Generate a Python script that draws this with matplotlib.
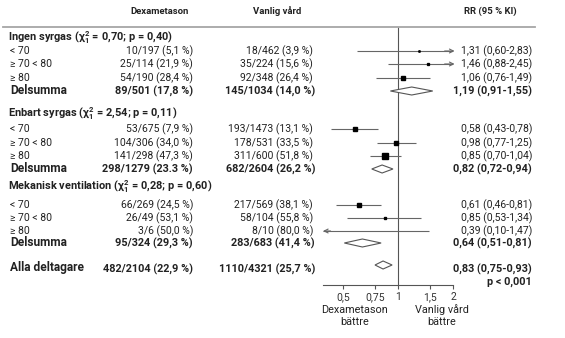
import matplotlib.pyplot as plt
from matplotlib import transforms
from matplotlib.lines import Line2D

plt.rcParams['font.family'] = ['Roboto', 'DejaVu Sans']
plt.rcParams['mathtext.fontset'] = 'custom'
plt.rcParams['mathtext.rm'] = 'Roboto:bold'
plt.rcParams['mathtext.it'] = 'Roboto:bold'
plt.rcParams['mathtext.bf'] = 'Roboto:bold'

W, H = 565, 338

# data
group_titles = [r'Ingen syrgas ($\chi^2_1$ = 0,70; p = 0,40)',
                r'Enbart syrgas ($\chi^2_1$ = 2,54; p = 0,11)',
                r'Mekanisk ventilation ($\chi^2_1$ = 0,28; p = 0,60)']
age_labels = ['< 70', '≥ 70 < 80', '≥ 80']

dex_txt = [['10/197 (5,1 %)', '25/114 (21,9 %)', '54/190 (28,4 %)'],
           ['53/675 (7,9 %)', '104/306 (34,0 %)', '141/298 (47,3 %)'],
           ['66/269 (24,5 %)', '26/49 (53,1 %)', '3/6 (50,0 %)']]
van_txt = [['18/462 (3,9 %)', '35/224 (15,6 %)', '92/348 (26,4 %)'],
           ['193/1473 (13,1 %)', '178/531 (33,5 %)', '311/600 (51,8 %)'],
           ['217/569 (38,1 %)', '58/104 (55,8 %)', '8/10 (80,0 %)']]
events = [[28, 60, 146], [246, 282, 452], [283, 84, 11]]
rr = [[1.31, 1.46, 1.06], [0.58, 0.98, 0.85], [0.61, 0.85, 0.39]]
lo = [[0.60, 0.88, 0.76], [0.43, 0.77, 0.70], [0.46, 0.53, 0.10]]
hi = [[2.83, 2.45, 1.49], [0.78, 1.25, 1.04], [0.81, 1.34, 1.47]]
rr_txt = [['1,31 (0,60-2,83)', '1,46 (0,88-2,45)', '1,06 (0,76-1,49)'],
          ['0,58 (0,43-0,78)', '0,98 (0,77-1,25)', '0,85 (0,70-1,04)'],
          ['0,61 (0,46-0,81)', '0,85 (0,53-1,34)', '0,39 (0,10-1,47)']]

sub_dex = ['89/501 (17,8 %)', '298/1279 (23.3 %)', '95/324 (29,3 %)']
sub_van = ['145/1034 (14,0 %)', '682/2604 (26,2 %)', '283/683 (41,4 %)']
sub_rr = [1.19, 0.82, 0.64]
sub_lo = [0.91, 0.72, 0.51]
sub_hi = [1.55, 0.94, 0.81]
sub_txt = ['1,19 (0,91-1,55)', '0,82 (0,72-0,94)', '0,64 (0,51-0,81)']

all_dex = '482/2104 (22,9 %)'
all_van = '1110/4321 (25,7 %)'
all_rr, all_lo, all_hi = 0.83, 0.75, 0.93
all_txt = '0,83 (0,75-0,93)'

ticks = [0.5, 0.75, 1, 1.5, 2]
tick_labels = ['0,5', '0,75', '1', '1,5', '2']

# layout (pixel rows)
title_y = [38, 114, 187]
row_y = [[51, 64, 78], [129, 143, 156], [205, 218, 231]]
sub_y = [91, 169, 243]
all_y = 268
axis_y = 285
XMIN, XMAX = 0.39, 2.0

fig = plt.figure(figsize=(W / 100, H / 100), dpi=100)
ax = fig.add_axes([323 / W, 0, 130 / W, 1])
ax.set_xscale('log')
ax.set_xlim(XMIN, XMAX)
ax.set_ylim(H, 0)
for s in ['top', 'left', 'right']:
    ax.spines[s].set_visible(False)
ax.spines['bottom'].set_position(('data', axis_y))
ax.spines['bottom'].set_color('#555555')
ax.spines['bottom'].set_linewidth(0.8)
ax.set_yticks([])
ax.set_xticks(ticks)
ax.set_xticklabels(tick_labels)
ax.minorticks_off()
ax.tick_params(axis='x', length=3, width=0.8, color='#555555', labelsize=7.5,
               labelcolor='#333333', pad=2)
ax.patch.set_visible(False)

ax.vlines(1, 27, axis_y, color='#555555', lw=0.8)

tr = transforms.blended_transform_factory(fig.transFigure, ax.transData)
txt = '#222222'


def put(px, y, s, ha='left', size=7.5, bold=False):
    fig.text(px / W, y, s, transform=tr, ha=ha, va='center', fontsize=size,
             fontweight='bold' if bold else 'normal', color=txt)


def diamond(y, c, l, h):
    ax.fill([l, c, h, c, l], [y, y - 4, y, y + 4, y], facecolor='white',
            edgecolor='#555555', lw=0.8, zorder=3)


def arrow(x_to, x_from, y):
    ax.annotate('', xy=(x_to, y), xytext=(x_from, y), annotation_clip=False,
                arrowprops=dict(arrowstyle='->', color='#666666', lw=0.8,
                                shrinkA=0, shrinkB=0, mutation_scale=7))


# header
put(160, 11, 'Dexametason', ha='center', size=6.8, bold=True)
put(277, 11, 'Vanlig vård', ha='center', size=6.8, bold=True)
put(490, 11, 'RR (95 % KI)', ha='center', size=6.8, bold=True)
fig.add_artist(Line2D([3 / W, 535 / W], [1 - 27 / H, 1 - 27 / H],
                      color='#a6a6a6', lw=1.3))

for g in range(3):
    put(8, title_y[g], group_titles[g], size=7.9, bold=True)
    for i in range(3):
        y = row_y[g][i]
        put(10, y, age_labels[i])
        put(193, y, dex_txt[g][i], ha='right')
        put(313, y, van_txt[g][i], ha='right')
        put(532, y, rr_txt[g][i], ha='right')
        l, h = lo[g][i], hi[g][i]
        lc, hc = max(l, XMIN), min(h, XMAX)
        ax.plot([lc, hc], [y, y], color='#666666', lw=0.8, zorder=2,
                solid_capstyle='butt')
        if h > XMAX:
            arrow(XMAX * 1.02, XMAX * 0.9, y)
        if l < XMIN:
            arrow(XMIN, XMIN * 1.1, y)
        if rr[g][i] > XMIN:
            ax.plot(rr[g][i], y, 's', color='black',
                    ms=0.18 * events[g][i] ** 0.5, zorder=4)
    y = sub_y[g]
    put(10, y, 'Delsumma', size=8.6, bold=True)
    put(193, y, sub_dex[g], ha='right', size=7.8, bold=True)
    put(315, y, sub_van[g], ha='right', size=7.8, bold=True)
    put(532, y, sub_txt[g], ha='right', size=7.8, bold=True)
    diamond(y, sub_rr[g], sub_lo[g], sub_hi[g])

put(10, all_y - 1, 'Alla deltagare', size=8.6, bold=True)
put(193, all_y + 1, all_dex, ha='right', size=7.8, bold=True)
put(315, all_y + 1, all_van, ha='right', size=7.8, bold=True)
put(532, all_y + 1, all_txt, ha='right', size=7.8, bold=True)
put(532, 282, 'p < 0,001', ha='right', size=7.8, bold=True)
diamond(all_y - 3, all_rr, all_lo, all_hi)

put(355, 310, 'Dexametason', ha='center', size=7.8)
put(355, 322, 'bättre', ha='center', size=7.8)
put(442, 310, 'Vanlig vård', ha='center', size=7.8)
put(442, 322, 'bättre', ha='center', size=7.8)

fig.savefig('out.png', dpi=100)
